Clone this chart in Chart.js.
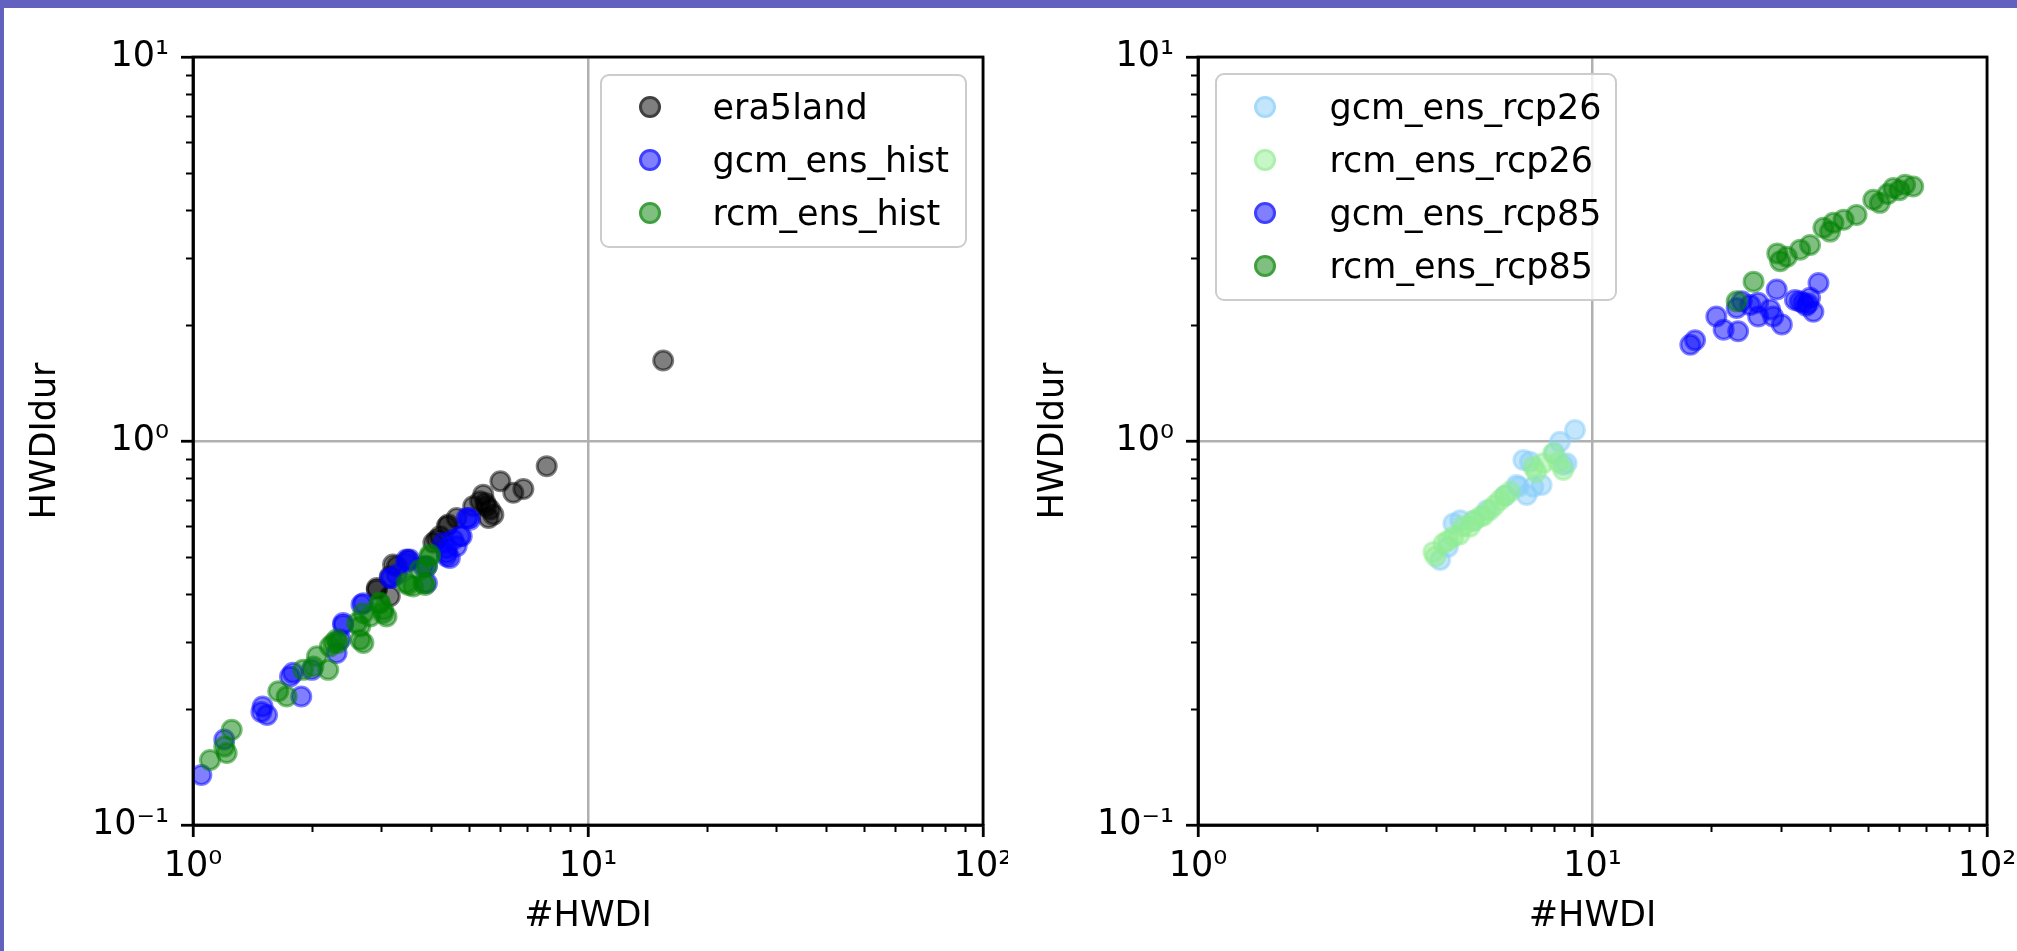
<!DOCTYPE html>
<html lang="en">
<head>
<meta charset="UTF-8">
<title>#HWDI vs HWDIdur</title>
<script src="https://cdn.jsdelivr.net/npm/chart.js"></script>
<style>
  body {
    margin: 0;
    width: 2017px;
    height: 951px;
    overflow: hidden;
    position: relative;
    background: #fff;
    font-family: "DejaVu Sans", sans-serif;
  }
  .band-top { position: absolute; left: 0; top: 0; width: 2017px; height: 8px; background: #6361c0; z-index: 5; }
  .band-left { position: absolute; left: 0; top: 0; width: 4px; height: 951px; background: #6361c0; z-index: 5; }
  canvas { position: absolute; top: 0; }
  #leftChart { left: 0; }
  #rightChart { left: 1008px; }
  .legend {
    position: absolute;
    box-sizing: border-box;
    background: rgba(255,255,255,0.8);
    border: 2.5px solid #cccccc;
    border-radius: 9px;
    z-index: 3;
  }
  .legend .dot {
    position: absolute;
    width: 22px;
    height: 22px;
    box-sizing: border-box;
    border-radius: 50%;
    border: 3px solid;
  }
  .legend .txt {
    position: absolute;
    height: 44px;
    line-height: 44px;
    font-size: 35px;
    color: #000;
    white-space: nowrap;
  }
  #leftLegend { left: 600px; top: 74px; width: 367px; height: 174px; }
  #rightLegend { left: 1215px; top: 73px; width: 402px; height: 228px; }
</style>
</head>
<body>
<div class="band-top"></div>
<div class="band-left"></div>
<canvas id="leftChart" width="1008" height="951"></canvas>
<canvas id="rightChart" width="1009" height="951"></canvas>
<div class="legend" id="leftLegend"></div>
<div class="legend" id="rightLegend"></div>

<script>
  // ---- left panel: historical ----
  const era5landX = [15.5, 7.86, 6.0, 6.86, 6.47, 5.43, 5.33, 5.65, 5.6, 5.12, 5.5, 4.65, 4.39, 4.14, 4.06, 3.5, 3.28, 3.15, 2.92, 3.15,
                     5.54, 5.76, 4.43, 4.22, 3.21, 2.92];
  const era5landY = [1.62, 0.86, 0.786, 0.75, 0.733, 0.725, 0.697, 0.663, 0.63, 0.676, 0.69, 0.63, 0.60, 0.553, 0.543, 0.49, 0.472, 0.444, 0.41, 0.394,
                     0.676, 0.643, 0.606, 0.565, 0.4765, 0.414];

  const gcmHistX = [1.05, 1.2, 1.49, 1.5, 1.54, 1.88, 1.76, 1.79, 2.0, 2.31, 2.4, 2.36, 2.67, 3.15, 3.47, 3.54, 3.28, 3.83, 3.91, 4.39, 4.56, 4.74, 4.65, 4.39, 4.3, 4.93, 5.03,
                    4.98, 4.79, 4.39, 4.47, 3.47, 3.18, 3.91, 2.70, 2.40];
  const gcmHistY = [0.135, 0.167, 0.197, 0.2035, 0.1935, 0.216, 0.2436, 0.249, 0.2535, 0.2804, 0.3357, 0.304, 0.375, 0.44, 0.481, 0.491, 0.449, 0.4716, 0.427, 0.511, 0.553, 0.565, 0.532, 0.50, 0.543, 0.63, 0.624,
                    0.63, 0.565, 0.526, 0.496, 0.491, 0.44, 0.4716, 0.378, 0.332];

  const rcmHistX = [1.104, 1.253, 1.217, 1.2, 1.644, 1.726, 1.9, 2.017, 2.2, 2.22, 2.27, 2.06, 2.33, 2.65, 2.6, 2.7, 2.81, 2.97, 3.09, 3.03, 3.47, 3.61, 3.83, 3.91, 3.98, 3.75,
                    3.98, 3.51, 3.87, 2.97, 3.03, 2.65, 2.31, 2.70];
  const rcmHistY = [0.1477, 0.177, 0.154, 0.16, 0.223, 0.216, 0.2535, 0.2586, 0.2535, 0.2915, 0.298, 0.275, 0.298, 0.3037, 0.3357, 0.356, 0.349, 0.379, 0.349, 0.3636, 0.427, 0.418, 0.427, 0.4716, 0.50, 0.462,
                    0.506, 0.422, 0.422, 0.378, 0.356, 0.329, 0.304, 0.298];

  // ---- right panel: scenarios ----
  const gcmRcp26X = [9.03, 8.27, 8.43, 7.43, 6.81, 6.94, 4.11, 4.62, 6.42, 7.08, 8.6, 4.44, 6.68, 5.0, 5.4, 6.0, 4.3, 6.5, 8.0];
  const gcmRcp26Y = [1.068, 0.995, 0.866, 0.768, 0.723, 0.883, 0.49, 0.622, 0.768, 0.76, 0.875, 0.61, 0.892, 0.62, 0.66, 0.72, 0.53, 0.76, 0.93];

  const rcmRcp26X = [3.95, 4.19, 4.44, 4.89, 5.19, 5.5, 5.83, 6.18, 7.08, 7.5, 8.43, 7.95, 4.0, 4.6, 4.7, 5.0, 5.3, 5.65, 6.0, 7.2, 8.2, 4.3];
  const rcmRcp26Y = [0.514, 0.541, 0.563, 0.598, 0.635, 0.661, 0.702, 0.738, 0.857, 0.875, 0.84, 0.929, 0.50, 0.57, 0.60, 0.62, 0.64, 0.68, 0.72, 0.83, 0.88, 0.55];

  const gcmRcp85X = [17.7, 18.2, 20.6, 21.5, 23.4, 23.9, 26.3, 26.3, 28.2, 29.3, 30.2, 28.7, 32.6, 34.2, 35.6, 36.3, 37.4, 25.1, 23.2, 34.8, 33.5, 35.2];
  const gcmRcp85Y = [1.78, 1.83, 2.11, 1.95, 1.93, 2.31, 2.11, 2.29, 2.20, 2.48, 2.01, 2.11, 2.33, 2.29, 2.36, 2.17, 2.58, 2.26, 2.22, 2.25, 2.31, 2.28];

  const rcmRcp85X = [62, 65, 57.9, 51.5, 53.5, 46.7, 43.3, 40.8, 38.5, 40, 35.6, 33.6, 31.1, 29.9, 29.4, 25.6, 23.2, 60, 56];
  const rcmRcp85Y = [4.65, 4.6, 4.56, 4.25, 4.17, 3.88, 3.77, 3.70, 3.59, 3.51, 3.24, 3.15, 3.02, 2.94, 3.08, 2.60, 2.31, 4.5, 4.4];

  const xMajors = [1, 10, 100];
  const yMajors = [0.1, 1, 10];
  const xLabel = '#HWDI';
  const yLabel = 'HWDIdur';

  const FONT = '"DejaVu Sans", sans-serif';
  const SUP = { '-': '\u207B', '0': '\u2070', '1': '\u00B9', '2': '\u00B2', '3': '\u00B3' };

  function powLabel(v) {
    const e = Math.round(Math.log10(v));
    return '10' + String(e).split('').map(c => SUP[c]).join('');
  }

  function minorsBetween(majors) {
    const out = [];
    for (let i = 0; i < majors.length - 1; i++) {
      for (let k = 2; k <= 9; k++) out.push(majors[i] * k);
    }
    return out;
  }

  function toPoints(xs, ys) {
    return xs.map((x, i) => ({ x: x, y: ys[i] }));
  }

  function series(label, xs, ys, rgb, idx) {
    return {
      label: label,
      data: toPoints(xs, ys),
      backgroundColor: `rgba(${rgb},0.5)`,
      borderColor: `rgba(${rgb},0.5)`,
      pointRadius: 9.5,
      pointBorderWidth: 3,
      pointHoverRadius: 9.5,
      order: -idx
    };
  }

  // minor ticks + top/right spines, in the matplotlib way
  const frame = {
    id: 'frame',
    afterDraw(chart) {
      const { ctx, chartArea: a, scales: { x, y } } = chart;
      ctx.save();
      ctx.strokeStyle = '#000';
      ctx.lineWidth = 2;
      ctx.beginPath();
      minorsBetween(xMajors).forEach(v => {
        const px = Math.round(x.getPixelForValue(v)) + 0.5;
        ctx.moveTo(px, a.bottom);
        ctx.lineTo(px, a.bottom + 7);
      });
      minorsBetween(yMajors).forEach(v => {
        const py = Math.round(y.getPixelForValue(v)) + 0.5;
        ctx.moveTo(a.left, py);
        ctx.lineTo(a.left - 7, py);
      });
      ctx.stroke();
      ctx.lineWidth = 2.8;
      ctx.strokeRect(a.left, a.top, a.right - a.left, a.bottom - a.top);
      ctx.restore();
    }
  };

  function makeChart(id, datasets, yWidth, rightPad) {
    const font = { family: FONT, size: 35 };
    const grid = { color: '#b0b0b0', lineWidth: 2.5, tickColor: '#000', tickLength: 12, tickWidth: 2.8 };
    return new Chart(document.getElementById(id), {
      type: 'scatter',
      data: { datasets: datasets },
      options: {
        responsive: false,
        animation: false,
        layout: { autoPadding: false, padding: { top: 57, right: rightPad, bottom: 0, left: 0 } },
        plugins: { legend: { display: false }, tooltip: { enabled: false } },
        scales: {
          x: {
            type: 'logarithmic',
            min: xMajors[0],
            max: xMajors[xMajors.length - 1],
            z: 1,
            afterBuildTicks: s => { s.ticks = xMajors.map(v => ({ value: v, major: true })); },
            afterFit: s => { s.height = 126; s.paddingLeft = 0; s.paddingRight = 0; },
            ticks: { callback: v => powLabel(v), font: font, color: '#000', padding: 9, maxRotation: 0, autoSkip: false },
            grid: grid,
            border: { color: '#000', width: 2.8 },
            title: { display: true, text: xLabel, font: font, color: '#000', padding: { top: 0, bottom: 13 } }
          },
          y: {
            type: 'logarithmic',
            min: yMajors[0],
            max: yMajors[yMajors.length - 1],
            z: 1,
            afterBuildTicks: s => { s.ticks = yMajors.map(v => ({ value: v, major: true })); },
            afterFit: s => { s.width = yWidth; s.paddingTop = 0; s.paddingBottom = 0; },
            ticks: { callback: v => powLabel(v), font: font, color: '#000', padding: 12, autoSkip: false },
            grid: grid,
            border: { color: '#000', width: 2.8 },
            title: { display: true, text: yLabel, font: font, color: '#000', padding: { top: 25, bottom: 0 } }
          }
        }
      },
      plugins: [frame]
    });
  }

  const leftSets = [
    series('era5land', era5landX, era5landY, '0,0,0', 0),
    series('gcm_ens_hist', gcmHistX, gcmHistY, '0,0,255', 1),
    series('rcm_ens_hist', rcmHistX, rcmHistY, '0,128,0', 2)
  ];
  const rightSets = [
    series('gcm_ens_rcp26', gcmRcp26X, gcmRcp26Y, '135,206,250', 0),
    series('rcm_ens_rcp26', rcmRcp26X, rcmRcp26Y, '144,238,144', 1),
    series('gcm_ens_rcp85', gcmRcp85X, gcmRcp85Y, '0,0,255', 2),
    series('rcm_ens_rcp85', rcmRcp85X, rcmRcp85Y, '0,128,0', 3)
  ];

  makeChart('leftChart', leftSets, 193, 25);
  makeChart('rightChart', rightSets, 190, 30);

  function buildLegend(id, sets, firstRow, gap, textLeft) {
    const box = document.getElementById(id);
    sets.forEach((ds, i) => {
      const cy = firstRow + i * gap;
      const dot = document.createElement('div');
      dot.className = 'dot';
      dot.style.left = (50 - 11 - 2.5) + 'px';
      dot.style.top = (cy - 11 - 2.5) + 'px';
      dot.style.background = ds.backgroundColor;
      dot.style.borderColor = ds.borderColor;
      box.appendChild(dot);
      const txt = document.createElement('div');
      txt.className = 'txt';
      txt.style.left = (textLeft - 2.5) + 'px';
      txt.style.top = (cy - 22 - 2.5) + 'px';
      txt.textContent = ds.label;
      box.appendChild(txt);
    });
  }

  buildLegend('leftLegend', leftSets, 33, 53, 113);
  buildLegend('rightLegend', rightSets, 34, 53.3, 115);
</script>
</body>
</html>
